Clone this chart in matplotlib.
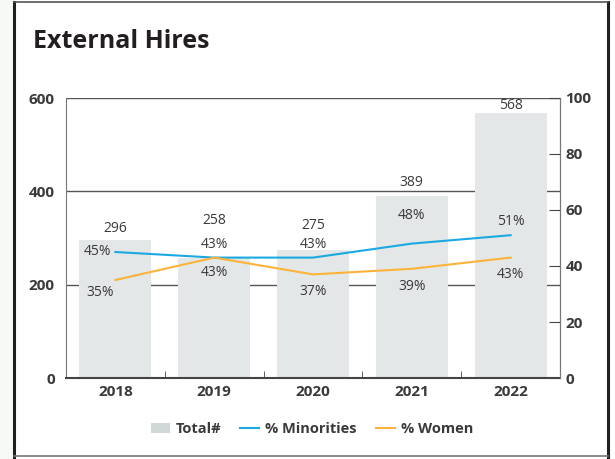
import matplotlib.pyplot as plt
from matplotlib.patches import Rectangle, Patch
from matplotlib.lines import Line2D
import numpy as np

plt.rcParams['font.family'] = ['Open Sans', 'DejaVu Sans']

years = ['2018', '2019', '2020', '2021', '2022']
total = [296, 258, 275, 389, 568]
pct_minorities = [45, 43, 43, 48, 51]
pct_women = [35, 43, 37, 39, 43]

bar_col = '#e4e7e8'
blue = '#1aa9e1'
orange = '#fbb33a'
txt = '#3a3a3a'

# label offsets (left axis units / percent units)
total_off = [25, 80, 51, 31, 15]
min_off = [0, 4.5, 4.5, 10, 5]
wom_off = [-4.5, -5.5, -6, -6.5, -6]

fig = plt.figure(figsize=(6.15, 4.59), dpi=100)
fig.patch.set_facecolor('white')

# outer frame
fig.patches.append(Rectangle((0, 0), 14 / 615, 1, transform=fig.transFigure,
                             facecolor='#f6f9f4', edgecolor='none', zorder=0))
fig.add_artist(Line2D([14 / 615, 14 / 615], [0, 457 / 459], color='#231f20', lw=2.2))
fig.add_artist(Line2D([608 / 615, 608 / 615], [0, 457 / 459], color='#231f20', lw=2.2))
fig.add_artist(Line2D([14 / 615, 608 / 615], [457 / 459, 457 / 459], color='#555555', lw=1.2))
fig.add_artist(Line2D([14 / 615, 608 / 615], [3 / 459, 3 / 459], color='#777777', lw=1.2))

fig.text(33 / 615, 1 - 42 / 459, 'External Hires', fontsize=18, fontweight='bold',
         color='#231f20', va='center', ha='left')

ax = fig.add_axes([66 / 615, 1 - 378 / 459, (560 - 66) / 615, (378 - 98) / 459])
x = np.arange(len(years))

ax.set_axisbelow(True)
ax.yaxis.grid(True, color='#555555', lw=1)
ax.bar(x, total, width=0.73, color=bar_col, zorder=2)
ax.set_xlim(-0.5, 4.5)
ax.set_ylim(0, 600)
ax.set_yticks([0, 200, 400, 600])
ax.tick_params(axis='y', length=0, labelsize=11, labelcolor=txt, pad=8)
for lab in ax.get_yticklabels():
    lab.set_fontweight('bold')
ax.set_xticks(x)
ax.set_xticklabels(years, fontsize=11, fontweight='bold', color=txt)
ax.tick_params(axis='x', length=0, pad=5)
ax.set_xticks(np.arange(0.5, 4, 1), minor=True)
ax.tick_params(axis='x', which='minor', direction='in', length=5, color='#444444')
for s in ['left', 'right']:
    ax.spines[s].set_color('#777777')
ax.spines['top'].set_visible(False)
ax.spines['bottom'].set_color('#444444')
ax.spines['bottom'].set_linewidth(1.5)
ax.spines['bottom'].set_zorder(5)

for i, v in enumerate(total):
    ax.text(i, v + total_off[i], str(v), ha='center', va='center', fontsize=10, color=txt)

ax2 = ax.twinx()
ax2.set_ylim(0, 100)
ax2.set_yticks([0, 20, 40, 60, 80, 100])
ax2.tick_params(axis='y', direction='in', length=8, color='#444444',
                labelsize=11, labelcolor=txt, pad=4)
for lab in ax2.get_yticklabels():
    lab.set_fontweight('bold')
for s in ['top', 'left', 'bottom']:
    ax2.spines[s].set_visible(False)
ax2.spines['right'].set_color('#777777')

ax2.plot(x, pct_minorities, color=blue, lw=1.5)
ax2.plot(x, pct_women, color=orange, lw=1.5)

for i, (m, w) in enumerate(zip(pct_minorities, pct_women)):
    dx = -0.18 if i == 0 else 0
    dxw = -0.15 if i == 0 else 0
    ax2.text(i + dx, m + min_off[i], f'{m}%', ha='center', va='center', fontsize=10, color=txt)
    ax2.text(i + dxw, w + wom_off[i], f'{w}%', ha='center', va='center', fontsize=10, color=txt)

# legend
handles = [Patch(facecolor='#d0d8d8', edgecolor='none'),
           Line2D([], [], color=blue, lw=1.5),
           Line2D([], [], color=orange, lw=1.5)]
leg = fig.legend(handles, ['Total#', '% Minorities', '% Women'], loc='center',
                 bbox_to_anchor=(312 / 615, 1 - 429 / 459), ncol=3, frameon=False,
                 handlelength=1.3, handletextpad=0.4, columnspacing=1.3,
                 prop={'weight': 'bold', 'size': 10.5})
for t in leg.get_texts():
    t.set_color(txt)

fig.savefig('out.png', dpi=100)
